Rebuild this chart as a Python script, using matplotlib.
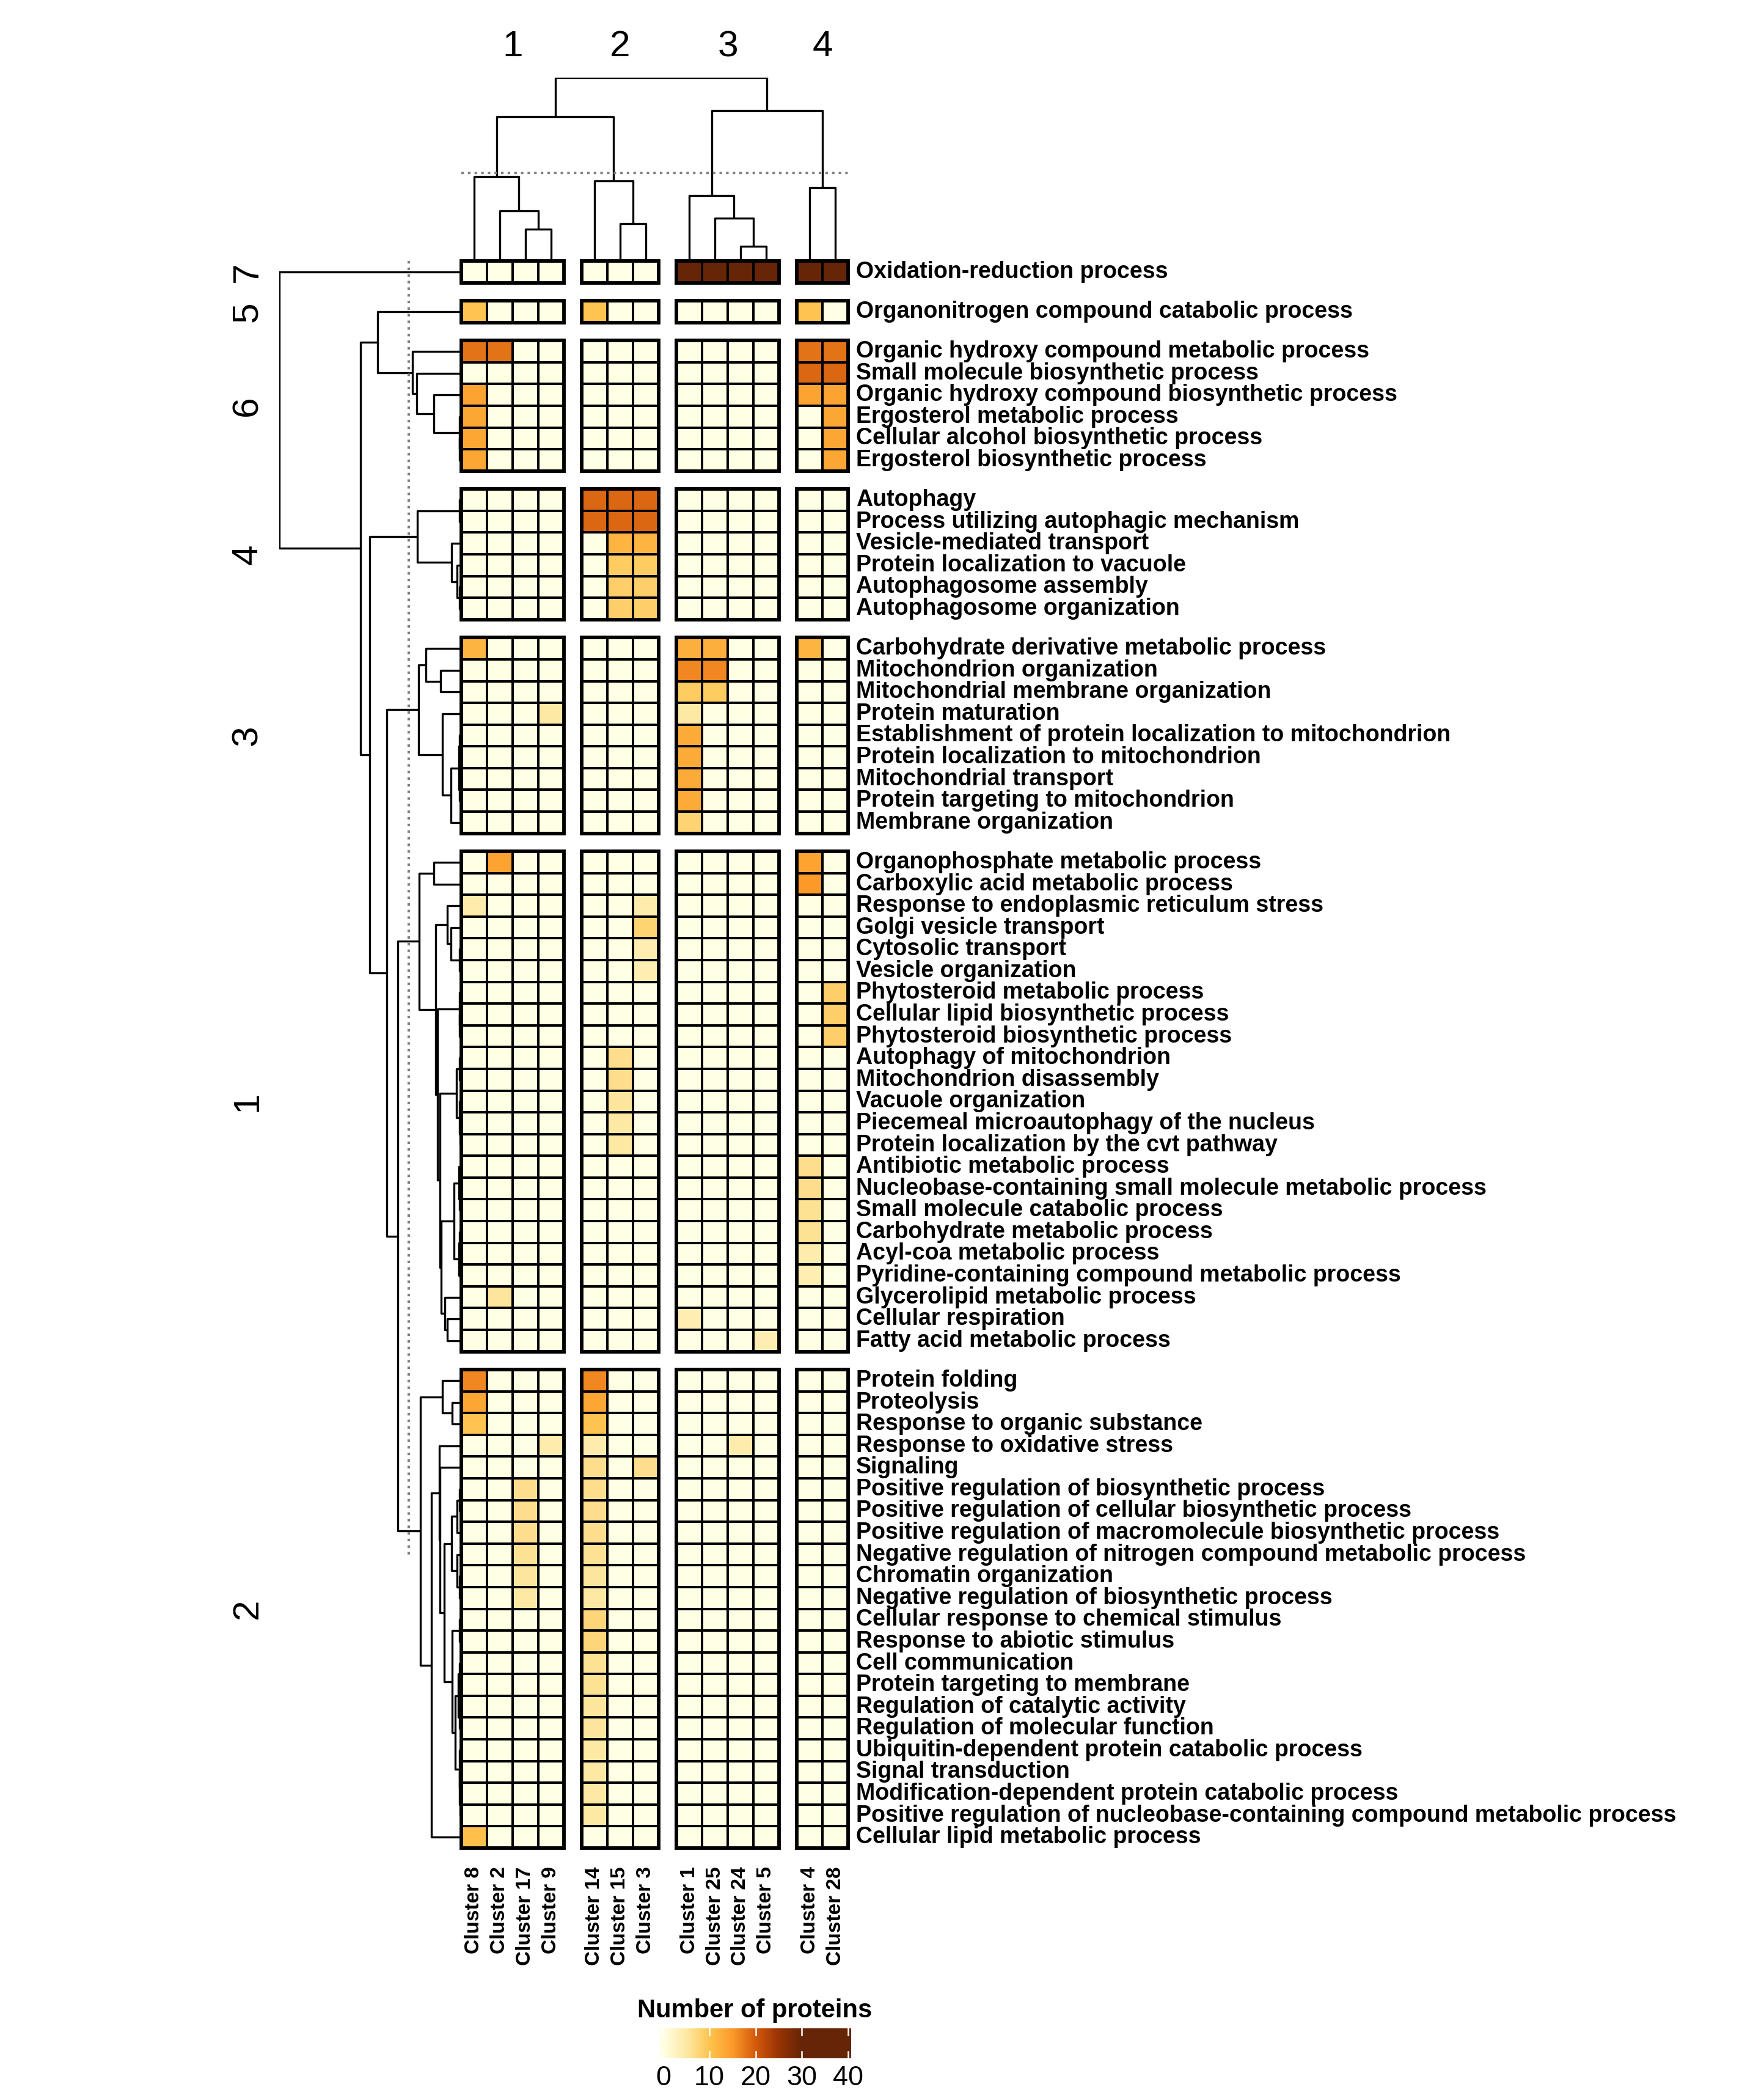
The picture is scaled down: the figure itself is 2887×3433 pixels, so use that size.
import numpy as np
import matplotlib
matplotlib.use("Agg")
import matplotlib.pyplot as plt
from matplotlib.colors import LinearSegmentedColormap
from matplotlib.patches import Rectangle

plt.rcParams['font.family'] = ['Liberation Sans', 'DejaVu Sans']

# ---------------- data ----------------
col_labels = ["Cluster 8", "Cluster 2", "Cluster 17", "Cluster 9",
              "Cluster 14", "Cluster 15", "Cluster 3",
              "Cluster 1", "Cluster 25", "Cluster 24", "Cluster 5",
              "Cluster 4", "Cluster 28"]
col_group_sizes = [4, 3, 4, 2]
col_group_names = ["1", "2", "3", "4"]

row_group_names = ["7", "5", "6", "4", "3", "1", "2"]

g7_terms = ["Oxidation-reduction process"]
g5_terms = ["Organonitrogen compound catabolic process"]
g6_terms = ["Organic hydroxy compound metabolic process",
            "Small molecule biosynthetic process",
            "Organic hydroxy compound biosynthetic process",
            "Ergosterol metabolic process",
            "Cellular alcohol biosynthetic process",
            "Ergosterol biosynthetic process"]
g4_terms = ["Autophagy",
            "Process utilizing autophagic mechanism",
            "Vesicle-mediated transport",
            "Protein localization to vacuole",
            "Autophagosome assembly",
            "Autophagosome organization"]
g3_terms = ["Carbohydrate derivative metabolic process",
            "Mitochondrion organization",
            "Mitochondrial membrane organization",
            "Protein maturation",
            "Establishment of protein localization to mitochondrion",
            "Protein localization to mitochondrion",
            "Mitochondrial transport",
            "Protein targeting to mitochondrion",
            "Membrane organization"]
g1_terms = ["Organophosphate metabolic process",
            "Carboxylic acid metabolic process",
            "Response to endoplasmic reticulum stress",
            "Golgi vesicle transport",
            "Cytosolic transport",
            "Vesicle organization",
            "Phytosteroid metabolic process",
            "Cellular lipid biosynthetic process",
            "Phytosteroid biosynthetic process",
            "Autophagy of mitochondrion",
            "Mitochondrion disassembly",
            "Vacuole organization",
            "Piecemeal microautophagy of the nucleus",
            "Protein localization by the cvt pathway",
            "Antibiotic metabolic process",
            "Nucleobase-containing small molecule metabolic process",
            "Small molecule catabolic process",
            "Carbohydrate metabolic process",
            "Acyl-coa metabolic process",
            "Pyridine-containing compound metabolic process",
            "Glycerolipid metabolic process",
            "Cellular respiration",
            "Fatty acid metabolic process"]
g2_terms = ["Protein folding",
            "Proteolysis",
            "Response to organic substance",
            "Response to oxidative stress",
            "Signaling",
            "Positive regulation of biosynthetic process",
            "Positive regulation of cellular biosynthetic process",
            "Positive regulation of macromolecule biosynthetic process",
            "Negative regulation of nitrogen compound metabolic process",
            "Chromatin organization",
            "Negative regulation of biosynthetic process",
            "Cellular response to chemical stimulus",
            "Response to abiotic stimulus",
            "Cell communication",
            "Protein targeting to membrane",
            "Regulation of catalytic activity",
            "Regulation of molecular function",
            "Ubiquitin-dependent protein catabolic process",
            "Signal transduction",
            "Modification-dependent protein catabolic process",
            "Positive regulation of nucleobase-containing compound metabolic process",
            "Cellular lipid metabolic process"]

# number of proteins (columns in col_labels order)
g7_vals = [[0, 0, 0, 0, 0, 0, 0, 35, 35, 35, 35, 35, 35]]
g5_vals = [[10, 0, 0, 0, 10, 0, 0, 0, 0, 0, 0, 10, 0]]
g6_vals = [[18, 18, 0, 0, 0, 0, 0, 0, 0, 0, 0, 18, 18],
           [0, 0, 0, 0, 0, 0, 0, 0, 0, 0, 0, 19, 19],
           [14, 0, 0, 0, 0, 0, 0, 0, 0, 0, 0, 14, 14],
           [13.5, 0, 0, 0, 0, 0, 0, 0, 0, 0, 0, 0, 13.5],
           [13.5, 0, 0, 0, 0, 0, 0, 0, 0, 0, 0, 0, 13.5],
           [13.5, 0, 0, 0, 0, 0, 0, 0, 0, 0, 0, 0, 13.5]]
g4_vals = [[0, 0, 0, 0, 19, 19, 19, 0, 0, 0, 0, 0, 0],
           [0, 0, 0, 0, 19, 19, 19, 0, 0, 0, 0, 0, 0],
           [0, 0, 0, 0, 0, 12, 12, 0, 0, 0, 0, 0, 0],
           [0, 0, 0, 0, 0, 9, 9, 0, 0, 0, 0, 0, 0],
           [0, 0, 0, 0, 0, 8.5, 8.5, 0, 0, 0, 0, 0, 0],
           [0, 0, 0, 0, 0, 8.5, 8.5, 0, 0, 0, 0, 0, 0]]
g3_vals = [[12, 0, 0, 0, 0, 0, 0, 12.5, 12.5, 0, 0, 12, 0],
           [0, 0, 0, 0, 0, 0, 0, 16.5, 16.5, 0, 0, 0, 0],
           [0, 0, 0, 0, 0, 0, 0, 9, 9, 0, 0, 0, 0],
           [0, 0, 0, 5, 0, 0, 0, 5, 0, 0, 0, 0, 0],
           [0, 0, 0, 0, 0, 0, 0, 13, 0, 0, 0, 0, 0],
           [0, 0, 0, 0, 0, 0, 0, 13, 0, 0, 0, 0, 0],
           [0, 0, 0, 0, 0, 0, 0, 13, 0, 0, 0, 0, 0],
           [0, 0, 0, 0, 0, 0, 0, 13, 0, 0, 0, 0, 0],
           [0, 0, 0, 0, 0, 0, 0, 8, 0, 0, 0, 0, 0]]
g1_vals = [[0, 14, 0, 0, 0, 0, 0, 0, 0, 0, 0, 14, 0],
           [0, 0, 0, 0, 0, 0, 0, 0, 0, 0, 0, 15, 0],
           [4.5, 0, 0, 0, 0, 0, 4.5, 0, 0, 0, 0, 0, 0],
           [0, 0, 0, 0, 0, 0, 8, 0, 0, 0, 0, 0, 0],
           [0, 0, 0, 0, 0, 0, 4, 0, 0, 0, 0, 0, 0],
           [0, 0, 0, 0, 0, 0, 4, 0, 0, 0, 0, 0, 0],
           [0, 0, 0, 0, 0, 0, 0, 0, 0, 0, 0, 0, 8.5],
           [0, 0, 0, 0, 0, 0, 0, 0, 0, 0, 0, 0, 8.5],
           [0, 0, 0, 0, 0, 0, 0, 0, 0, 0, 0, 0, 8.5],
           [0, 0, 0, 0, 0, 6.5, 0, 0, 0, 0, 0, 0, 0],
           [0, 0, 0, 0, 0, 6.5, 0, 0, 0, 0, 0, 0, 0],
           [0, 0, 0, 0, 0, 5.5, 0, 0, 0, 0, 0, 0, 0],
           [0, 0, 0, 0, 0, 5, 0, 0, 0, 0, 0, 0, 0],
           [0, 0, 0, 0, 0, 5, 0, 0, 0, 0, 0, 0, 0],
           [0, 0, 0, 0, 0, 0, 0, 0, 0, 0, 0, 6.5, 0],
           [0, 0, 0, 0, 0, 0, 0, 0, 0, 0, 0, 6.5, 0],
           [0, 0, 0, 0, 0, 0, 0, 0, 0, 0, 0, 6, 0],
           [0, 0, 0, 0, 0, 0, 0, 0, 0, 0, 0, 6, 0],
           [0, 0, 0, 0, 0, 0, 0, 0, 0, 0, 0, 4.5, 0],
           [0, 0, 0, 0, 0, 0, 0, 0, 0, 0, 0, 4, 0],
           [0, 5.5, 0, 0, 0, 0, 0, 0, 0, 0, 0, 0, 0],
           [0, 0, 0, 0, 0, 0, 0, 4, 0, 0, 0, 0, 0],
           [0, 0, 0, 0, 0, 0, 0, 0, 0, 0, 4, 0, 0]]
g2_vals = [[16.5, 0, 0, 0, 16.5, 0, 0, 0, 0, 0, 0, 0, 0],
           [13.5, 0, 0, 0, 13.5, 0, 0, 0, 0, 0, 0, 0, 0],
           [10, 0, 0, 0, 10, 0, 0, 0, 0, 0, 0, 0, 0],
           [0, 0, 0, 4.5, 4.5, 0, 0, 0, 0, 4.5, 0, 0, 0],
           [0, 0, 0, 0, 6.5, 0, 6.5, 0, 0, 0, 0, 0, 0],
           [0, 0, 6.5, 0, 6.5, 0, 0, 0, 0, 0, 0, 0, 0],
           [0, 0, 6.5, 0, 6.5, 0, 0, 0, 0, 0, 0, 0, 0],
           [0, 0, 6.5, 0, 6.5, 0, 0, 0, 0, 0, 0, 0, 0],
           [0, 0, 6, 0, 6, 0, 0, 0, 0, 0, 0, 0, 0],
           [0, 0, 5.5, 0, 5.5, 0, 0, 0, 0, 0, 0, 0, 0],
           [0, 0, 5, 0, 5, 0, 0, 0, 0, 0, 0, 0, 0],
           [0, 0, 0, 0, 7.5, 0, 0, 0, 0, 0, 0, 0, 0],
           [0, 0, 0, 0, 7.5, 0, 0, 0, 0, 0, 0, 0, 0],
           [0, 0, 0, 0, 6, 0, 0, 0, 0, 0, 0, 0, 0],
           [0, 0, 0, 0, 6, 0, 0, 0, 0, 0, 0, 0, 0],
           [0, 0, 0, 0, 5.5, 0, 0, 0, 0, 0, 0, 0, 0],
           [0, 0, 0, 0, 5.5, 0, 0, 0, 0, 0, 0, 0, 0],
           [0, 0, 0, 0, 5, 0, 0, 0, 0, 0, 0, 0, 0],
           [0, 0, 0, 0, 5, 0, 0, 0, 0, 0, 0, 0, 0],
           [0, 0, 0, 0, 5, 0, 0, 0, 0, 0, 0, 0, 0],
           [0, 0, 0, 0, 5, 0, 0, 0, 0, 0, 0, 0, 0],
           [10.5, 0, 0, 0, 0, 0, 0, 0, 0, 0, 0, 0, 0]]

row_terms = [g7_terms, g5_terms, g6_terms, g4_terms, g3_terms, g1_terms, g2_terms]
row_vals = [g7_vals, g5_vals, g6_vals, g4_vals, g3_vals, g1_vals, g2_vals]

# dendrograms: (merge height, left, right); leaves are row / column indices
col_tree = (300, (236, (138, 0, (82.5, 1, (52, 2, 3))), (131, 4, (61, 5, 6))),
            (246, (107, 7, (70, 8, (24, 9, 10))), (120, 11, 12)))
col_cut = 144

tree_g6 = (78, 2, (71, 3, (43, 4, (1.3, 5, (0.6, 6, 7)))))
tree_g4 = (70, (1.3, 8, 9), (13.7, 10, (4.7, 11, (1.3, 12, 13))))
tree_g3 = (68, (55.7, 14, (32, 15, 16)),
           (29, 17, (15.3, (2, (1, 18, 19), (0.8, 20, 21)), 22)))
tree_g1 = (66.6, (43, 23, 24),
           (40.3, (21, 25, (15, 26, (1, 27, 28))),
            (37, (1.3, 29, (0.6, 30, 31)),
             (33, (6.3, (1, 32, 33), (1, 34, (0.5, 35, 36))),
              (31, (9.7, (2.3, 37, (1, 38, 39)), (2.3, (1, 40, 41), 42)),
               (25, 43, (21, 44, 45)))))))
tree_g2 = (64.7, (29, 46, (13, 47, 48)),
           (47, (34.5, 49,
                 (33, 50,
                  (26, (13.7, (4.7, (1, 51, 52), 53), (4.7, 54, (1, 55, 56))),
                   (13, (1.5, 57, 58),
                    (8, (3, (1, 59, 60), (1, 61, 62)),
                     (1.5, 63, (1, 64, (0.5, 65, 66)))))))),
            67))
row_tree = (296, 0, (163, (135, 1, tree_g6),
                     (148, tree_g4, (120, tree_g3, (102, tree_g1, tree_g2)))))
row_cut = 84

# ---------------- layout ----------------
W, H = 2887, 3433
fig = plt.figure(figsize=(W / 300, H / 300), dpi=300)


def px_axes(left, top, right, bottom):
    return fig.add_axes([left / W, 1 - bottom / H, (right - left) / W, (bottom - top) / H])


cmap = LinearSegmentedColormap.from_list("ylorbr", [
    (0.0, "#FFFFE3"), (0.125, "#FEE9A4"), (0.25, "#FEC44F"), (0.375, "#FB9A29"),
    (0.5, "#D45A0C"), (0.625, "#993404"), (0.75, "#662506"), (1.0, "#662506")])

gap_x, gap_y = 0.7, 0.83

col_start = []
off = 0
for n in col_group_sizes:
    col_start.append(off)
    off += n + gap_x
total_w = off - gap_x
col_centers = np.concatenate([s + np.arange(n) + 0.5 for s, n in zip(col_start, col_group_sizes)])

row_sizes = [len(t) for t in row_terms]
row_start = []
off = 0
for n in row_sizes:
    row_start.append(off)
    off += n + gap_y
total_h = off - gap_y
row_centers = np.concatenate([s + np.arange(n) + 0.5 for s, n in zip(row_start, row_sizes)])

ax = px_axes(755, 427, 1388, 3024)
ax.set_xlim(0, total_w)
ax.set_ylim(total_h, 0)
ax.axis("off")

ci = np.cumsum([0] + col_group_sizes)
for r, vals in enumerate(row_vals):
    vals = np.array(vals, dtype=float)
    ys = row_start[r] + np.arange(len(vals) + 1)
    for c, n in enumerate(col_group_sizes):
        xs = col_start[c] + np.arange(n + 1)
        ax.pcolormesh(xs, ys, vals[:, ci[c]:ci[c + 1]], cmap=cmap, vmin=0, vmax=40,
                      edgecolors="black", linewidth=0.85)
        ax.add_patch(Rectangle((col_start[c], row_start[r]), n, len(vals), fill=False,
                               edgecolor="black", linewidth=1.4, clip_on=False, zorder=5))

# row labels
all_terms = [t for grp in row_terms for t in grp]
for y, t in zip(row_centers, all_terms):
    ax.text(total_w + 0.3, y, t, ha="left", va="center", fontsize=9.0, fontweight="bold")

# column labels
for x, t in zip(col_centers, col_labels):
    ax.text(x, total_h + 0.85, t, rotation=90, rotation_mode="anchor", ha="right",
            va="center", fontsize=8.0, fontweight="bold")


def draw_tree(a, node, pos, vertical):
    if isinstance(node, int):
        return pos[node], 0.0
    h, left, right = node
    pl, hl = draw_tree(a, left, pos, vertical)
    pr, hr = draw_tree(a, right, pos, vertical)
    hh = [hl, h, h, hr]
    pp = [pl, pl, pr, pr]
    if vertical:
        a.plot(pp, hh, color="black", lw=0.8, solid_capstyle="butt")
    else:
        a.plot(hh, pp, color="black", lw=0.8, solid_capstyle="butt")
    return (pl + pr) / 2, h


# column dendrogram
axc = px_axes(755, 127, 1388, 427)
axc.set_xlim(0, total_w)
axc.set_ylim(0, 300)
axc.axis("off")
draw_tree(axc, col_tree, col_centers, True)
axc.plot([0, total_w], [col_cut, col_cut], color="#808080", lw=1.0,
         linestyle=(0, (1, 1.6)), clip_on=False)
for s, n, name in zip(col_start, col_group_sizes, col_group_names):
    axc.text(s + n / 2, 350, name, ha="center", va="center", fontsize=14.5, clip_on=False)

# row dendrogram
axr = px_axes(457, 427, 753, 3024)
axr.set_xlim(296, 0)
axr.set_ylim(total_h, 0)
axr.axis("off")
draw_tree(axr, row_tree, row_centers, False)
axr.plot([row_cut, row_cut], [0, 59.6], color="#808080", lw=1.0,
         linestyle=(0, (1, 1.6)), clip_on=False)
for s, n, name in zip(row_start, row_sizes, row_group_names):
    axr.text(348, s + n / 2, name, rotation=90, ha="center", va="center",
             fontsize=14.5, clip_on=False)

# colour legend
fig.text(1235 / W, 1 - 3290 / H, "Number of proteins", ha="center", va="center",
         fontsize=10, fontweight="bold")
axb = px_axes(1080, 3319, 1393, 3368)
grad = np.linspace(-0.7, 40.7, 400).reshape(1, -1)
axb.imshow(grad, cmap=cmap, vmin=0, vmax=40, aspect="auto", extent=(-0.7, 40.7, 0, 1))
axb.set_xlim(-0.7, 40.7)
axb.set_ylim(0, 1)
ticks = [0, 10, 20, 30, 40]
for t in ticks:
    axb.plot([t, t], [0, 0.23], color="white", lw=0.6)
    axb.plot([t, t], [0.77, 1], color="white", lw=0.6)
axb.set_xticks(ticks)
axb.set_yticks([])
axb.tick_params(axis="x", length=0, pad=3, labelsize=10.8)
for sp in axb.spines.values():
    sp.set_visible(False)

fig.savefig("out.png", dpi=300)
